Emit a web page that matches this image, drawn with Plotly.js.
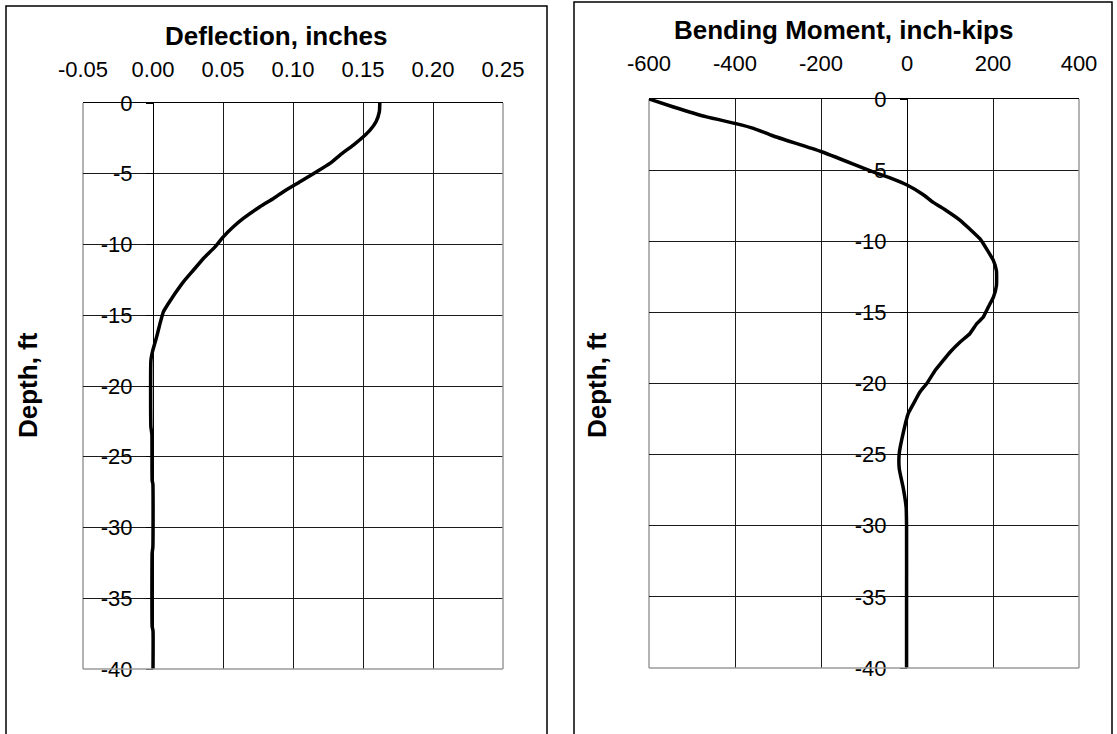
<!DOCTYPE html>
<html>
<head>
<meta charset="utf-8">
<script src="https://cdn.plot.ly/plotly-3.0.1.min.js"></script>
<style>html,body{margin:0;padding:0;background:#fff;}#chart{width:1117px;height:734px;}</style>
</head>
<body>
<div id="chart"></div>
<script>
// ---- data ----
const deflDepth = [0, -0.61, -1.32, -1.91, -2.38, -2.97, -3.68, -4.27, -4.86, -5.57, -6.27, -6.75, -7.33, -8.16, -8.75, -9.46, -10.17, -10.99, -11.82, -12.64, -13.47, -14.17, -14.76, -15.59, -16.53, -17.5, -18.2, -22.9, -23.4, -26.7, -26.9, -31.4, -31.8, -37.0, -37.3, -40];
const deflection = [0.162, 0.1617, 0.1593, 0.155, 0.1502, 0.1431, 0.1336, 0.1264, 0.1169, 0.105, 0.0931, 0.086, 0.0764, 0.0645, 0.0574, 0.0502, 0.0443, 0.036, 0.0288, 0.0217, 0.0157, 0.011, 0.0074, 0.005, 0.0026, -0.0002, -0.0015, -0.0015, -0.0008, -0.0006, -0.0001, -0.0001, -0.0006, -0.0006, 0.0, 0.0];

const momDepth = [0, -0.56, -1.26, -1.73, -2.06, -2.6, -3.69, -5.05, -5.63, -6.03, -6.73, -7.27, -7.85, -8.51, -9.14, -9.84, -10.54, -11.36, -12.07, -13.12, -13.93, -14.63, -15.34, -15.8, -16.5, -17.1, -17.8, -18.5, -19.1, -20.0, -20.6, -21.2, -22.1, -23.5, -24.9, -26.0, -27.3, -28.7, -30, -35, -40];
const moment = [-600, -543, -466, -398, -357, -311, -200, -85, -32, -1, 38, 61, 92, 123, 146, 170, 185, 201, 208, 208, 201, 189, 177, 162, 146, 123, 100, 81, 65, 46, 30, 19, 3, -9, -18, -18, -9, -2, -1, -1, -1];

const deflTicks = [-0.05, 0, 0.05, 0.10, 0.15, 0.20, 0.25];
const deflTickText = ["-0.05", "0.00", "0.05", "0.10", "0.15", "0.20", "0.25"];
const momTicks = [-600, -400, -200, 0, 200, 400];
const momTickText = ["-600", "-400", "-200", "0", "200", "400"];
const depthTicks = [0, -5, -10, -15, -20, -25, -30, -35, -40];
const depthTickText = ["0", "-5", "-10", "-15", "-20", "-25", "-30", "-35", "-40"];

const titleLeft = "Deflection, inches";
const titleRight = "Bending Moment, inch-kips";
const depthTitle = "Depth, ft";

// ---- layout helpers (pixel -> paper) ----
const W = 1117, H = 734;
const px = x => x / W;
const py = y => 1 - y / H;
const FONT = "Liberation Sans, Arial, sans-serif";

const L = {l: 83, r: 503, t: 103, b: 669};
const R = {l: 649, r: 1079, t: 99, b: 668};

const xl = [-0.05, 0.25], xr = [-600, 400];
const posL = L.l + (0 - xl[0]) / (xl[1] - xl[0]) * (L.r - L.l);
const posR = R.l + (0 - xr[0]) / (xr[1] - xr[0]) * (R.r - R.l);

const tickFont = {family: FONT, size: 22, color: "#000"};

function xAxis(dom, rng, tv, tt, anchor, standoff) {
  return {
    domain: [px(dom.l), px(dom.r)], range: rng, side: "top", anchor: anchor,
    tickmode: "array", tickvals: tv, ticktext: tt,
    showgrid: true, gridcolor: "#1a1a1a", gridwidth: 1,
    zeroline: false, showline: true, linecolor: "#000", linewidth: 1, mirror: false,
    ticks: "", ticklabelstandoff: standoff, tickfont: tickFont, fixedrange: true
  };
}
function yAxis(dom, pos) {
  return {
    domain: [py(dom.b), py(dom.t)], range: [-40, 0], anchor: "free", position: px(pos),
    tickmode: "array", tickvals: depthTicks, ticktext: depthTickText,
    showgrid: true, gridcolor: "#1a1a1a", gridwidth: 1,
    zeroline: false, showline: true, linecolor: "#000", linewidth: 1,
    ticks: "outside", ticklen: 7, tickcolor: "#000", ticklabelstandoff: 9,
    tickfont: tickFont, fixedrange: true
  };
}

const traces = [
  {x: deflection, y: deflDepth, xaxis: "x", yaxis: "y", mode: "lines",
   line: {color: "#000", width: 3.5, shape: "spline", smoothing: 0.4}, hoverinfo: "x+y"},
  {x: moment, y: momDepth, xaxis: "x2", yaxis: "y2", mode: "lines",
   line: {color: "#000", width: 3.5, shape: "spline", smoothing: 0.4}, hoverinfo: "x+y"}
];

function frame(d) {
  const g = "#9a9a9a";
  return [
    {type: "line", xref: "paper", yref: "paper", x0: px(d.l), x1: px(d.l), y0: py(d.t), y1: py(d.b), line: {color: g, width: 1.5}, layer: "below"},
    {type: "line", xref: "paper", yref: "paper", x0: px(d.r), x1: px(d.r), y0: py(d.t), y1: py(d.b), line: {color: g, width: 1.5}, layer: "above"},
    {type: "line", xref: "paper", yref: "paper", x0: px(d.l), x1: px(d.r), y0: py(d.b), y1: py(d.b), line: {color: g, width: 1.5}, layer: "above"}
  ];
}

const shapes = [
  {type: "rect", xref: "paper", yref: "paper", x0: px(6), x1: px(547), y0: py(6), y1: py(760), line: {color: "#000", width: 1.5}, fillcolor: "rgba(0,0,0,0)"},
  {type: "rect", xref: "paper", yref: "paper", x0: px(574), x1: px(1112), y0: py(2), y1: py(760), line: {color: "#000", width: 1.5}, fillcolor: "rgba(0,0,0,0)"}
].concat(frame(L), frame(R));

const annFont = {family: FONT, size: 26, color: "#000"};
const annotations = [
  {text: "<b>" + titleLeft + "</b>", xref: "paper", yref: "paper", x: px(276.5), y: py(36), xanchor: "center", yanchor: "middle", showarrow: false, font: annFont},
  {text: "<b>" + titleRight + "</b>", xref: "paper", yref: "paper", x: px(843), y: py(30), xanchor: "center", yanchor: "middle", showarrow: false, font: annFont},
  {text: "<b>" + depthTitle + "</b>", xref: "paper", yref: "paper", x: px(28), y: py(385), xanchor: "center", yanchor: "middle", textangle: -90, showarrow: false, font: annFont},
  {text: "<b>" + depthTitle + "</b>", xref: "paper", yref: "paper", x: px(597), y: py(385), xanchor: "center", yanchor: "middle", textangle: -90, showarrow: false, font: annFont}
];

const layout = {
  width: W, height: H, margin: {l: 0, r: 0, t: 0, b: 0, pad: 0},
  paper_bgcolor: "#fff", plot_bgcolor: "rgba(0,0,0,0)", showlegend: false,
  xaxis: xAxis(L, xl, deflTicks, deflTickText, "y", 16),
  yaxis: yAxis(L, posL),
  xaxis2: xAxis(R, xr, momTicks, momTickText, "y2", 18),
  yaxis2: yAxis(R, posR),
  shapes: shapes, annotations: annotations
};

Plotly.newPlot("chart", traces, layout, {displayModeBar: false, staticPlot: true});
</script>
</body>
</html>
